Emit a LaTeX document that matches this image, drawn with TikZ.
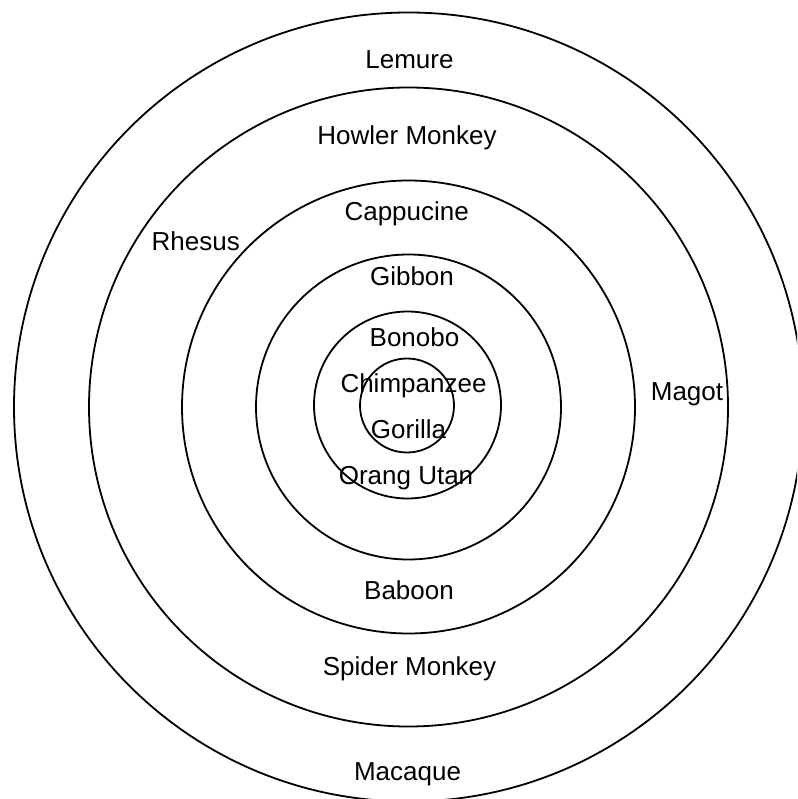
\documentclass[tikz,border=0pt]{standalone}
\usepackage{fontspec}
\setmainfont{Liberation Sans}
\tikzset{
  ring/.style={draw=black, line width=1.8pt},
  lbl/.style={anchor=base, inner sep=0pt, font=\fontsize{26}{31}\selectfont}
}
\begin{document}
\begin{tikzpicture}[x=1pt,y=-1pt]
\useasboundingbox (0,0) rectangle (797,799);
\begin{scope}
\clip (0,0) rectangle (797,799);
\coordinate (c) at (408.5,407);
\draw[ring] (c) circle[radius=394.5];
\draw[ring] (c) circle[radius=319.5];
\draw[ring] (c) circle[radius=226.5];
\draw[ring] (c) circle[radius=152.5];
\draw[ring] (407.5,405) circle[radius=93.5];
\draw[ring] (407,405.5) circle[radius=47];
\end{scope}
\node[lbl] (lemure) at (409.5,69) {Lemure};
\node[lbl] (howler) at (407,145) {Howler Monkey};
\node[lbl] (cappucine) at (406.7,220.7) {Cappucine};
\node[lbl] (rhesus) at (195.7,251) {Rhesus};
\node[lbl] (gibbon) at (412,285) {Gibbon};
\node[lbl] (bonobo) at (414.5,346.7) {Bonobo};
\node[lbl] (chimp) at (413.5,392.7) {Chimpanzee};
\node[lbl] (gorilla) at (408.5,438) {Gorilla};
\node[lbl] (orang) at (406,484) {Orang Utan};
\node[lbl] (magot) at (687,400.5) {Magot};
\node[lbl] (baboon) at (409,599) {Baboon};
\node[lbl] (spider) at (409.5,675) {Spider Monkey};
\node[lbl] (macaque) at (407.5,780) {Macaque};
\end{tikzpicture}
\end{document}
